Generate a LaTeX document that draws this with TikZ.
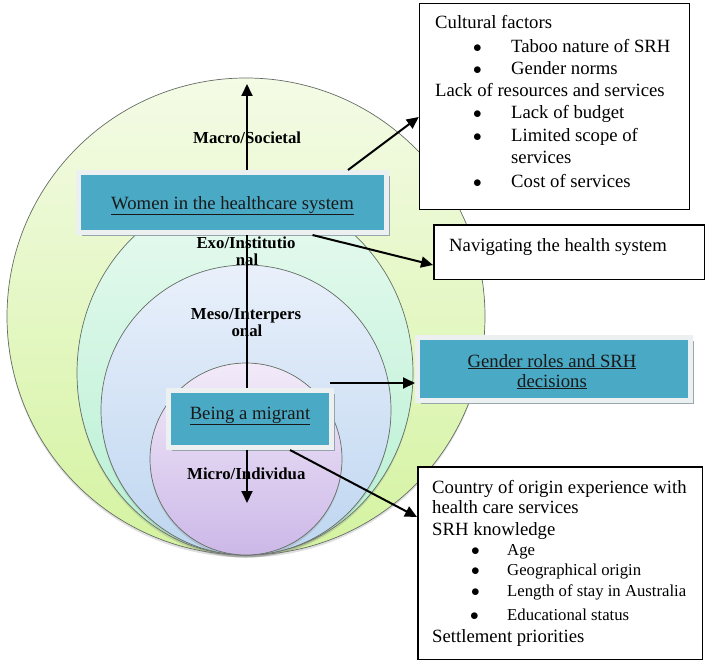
\documentclass[tikz,border=0pt]{standalone}
\usepackage{fontspec}
\setmainfont{Liberation Serif}
\usetikzlibrary{arrows.meta,shadows,calc}
\definecolor{tealfill}{RGB}{74,169,196}
\definecolor{framec}{RGB}{236,240,241}
\definecolor{shadowc}{RGB}{140,158,166}
\definecolor{macroT}{RGB}{244,251,230}
\definecolor{macroB}{RGB}{212,243,160}
\definecolor{exoT}{RGB}{232,250,240}
\definecolor{exoB}{RGB}{182,240,210}
\definecolor{mesoT}{RGB}{233,240,251}
\definecolor{mesoB}{RGB}{190,214,240}
\definecolor{microT}{RGB}{242,234,249}
\definecolor{microB}{RGB}{204,184,232}
\definecolor{ringline}{RGB}{100,110,100}
\newcommand{\bul}[1]{\makebox[#1][l]{$\bullet$}}
\begin{document}
\begin{tikzpicture}[x=1pt,y=-1pt,
  ring/.style={draw=ringline, line width=0.7pt,
    drop shadow={shadow xshift=0pt,shadow yshift=-2.5pt,opacity=0.25}},
  arr/.style={line width=2pt, -{Triangle[length=12pt,width=11pt]}},
  conn/.style={line width=2pt},
  tealbox/.style={rectangle, fill=tealfill, draw=framec, line width=5pt,
    drop shadow={shadow xshift=3pt, shadow yshift=-3pt, fill=shadowc, opacity=0.9},
    font=\fontsize{18.7}{20}\selectfont, text=black!90, inner sep=0pt},
  tealtxt/.style={anchor=base, inner sep=0pt, font=\fontsize{18.7}{20}\selectfont, text=black!90},
  wbox/.style={rectangle, draw=black, line width=1.5pt, fill=white, inner sep=0pt},
  txt/.style={anchor=base west, inner sep=0pt, font=\fontsize{18.7}{22}\selectfont},
  stxt/.style={anchor=base west, inner sep=0pt, font=\fontsize{16.7}{20}\selectfont},
  lbl/.style={inner sep=0pt, font=\fontsize{16.8}{17}\selectfont\bfseries}
]
\useasboundingbox (0,0) rectangle (708,671);

% nested circles
\shade[ring, top color=macroT, bottom color=macroB] (246,316.5) ellipse [x radius=239pt, y radius=238.5pt];
\shade[ring, top color=exoT, bottom color=exoB] (245,373) ellipse [x radius=168pt, y radius=182pt];
\shade[ring, top color=mesoT, bottom color=mesoB] (246,410) ellipse [x radius=145pt, y radius=145pt];
\shade[ring, top color=microT, bottom color=microB] (246,459) ellipse [x radius=96pt, y radius=96pt];

% level labels
\node[lbl, anchor=base west] (macro) at (193,143) {Macro/Societal};
\node[lbl, anchor=base] (exo1) at (246,248) {Exo/Institutio};
\node[lbl, anchor=base] (exo2) at (247,265) {nal};
\node[lbl, anchor=base] (meso1) at (246,319) {Meso/Interpers};
\node[lbl, anchor=base] (meso2) at (247,336) {onal};
\node[lbl, anchor=base west] (micro) at (187,479) {Micro/Individua};

% teal boxes
\node[tealbox, minimum width=308pt, minimum height=60pt, text height=13pt, text depth=0pt]
  (women) at (232.5,202.5) {\underline{Women in the healthcare system}};
\node[tealbox, minimum width=163pt, minimum height=57pt, text height=12pt, text depth=12pt]
  (migrant) at (250,419) {\underline{Being a migrant}};
\node[tealbox, minimum width=273pt, minimum height=63pt] (gender) at (554,369) {};
\node[tealtxt] (gt1) at (552,367) {\underline{Gender roles and SRH}};
\node[tealtxt] (gt2) at (552,387) {\underline{decisions}};

% white boxes
\node[wbox, minimum width=270pt, minimum height=206pt] (cult) at (554.5,106.5) {};
\node[wbox, minimum width=270.5pt, minimum height=54.5pt] (nav) at (569,252) {};
\node[wbox, minimum width=284.5pt, minimum height=192.5pt] (origin) at (560,563) {};

% text of the top box
\node[txt] (c1) at (435,29) {Cultural factors};
\node[txt] (c2) at (473,53) {\bul{38pt}Taboo nature of SRH};
\node[txt] (c3) at (473,75) {\bul{38pt}Gender norms};
\node[txt] (c4) at (435,97) {Lack of resources and services};
\node[txt] (c5) at (473,119) {\bul{38pt}Lack of budget};
\node[txt] (c6) at (473,142) {\bul{38pt}Limited scope of};
\node[txt] (c7) at (511,163) {services};
\node[txt] (c8) at (473,187) {\bul{38pt}Cost of services};

% navigating box
\node[txt] (n1) at (449,251) {Navigating the health system};

% text of the bottom box
\node[txt] (o1) at (432,493) {Country of origin experience with};
\node[txt] (o2) at (432,513) {health care services};
\node[txt] (o3) at (432,535) {SRH knowledge};
\node[stxt] (o4) at (471,555) {\bul{36pt}Age};
\node[stxt] (o5) at (471,575) {\bul{36pt}Geographical origin};
\node[stxt] (o6) at (471,596) {\bul{36pt}Length of stay in Australia};
\node[stxt] (o7) at (470,620) {\makebox[37pt][l]{\fontsize{18.7}{20}\selectfont$\bullet$}Educational status};
\node[txt] (o8) at (432,642) {Settlement priorities};

% connectors
\coordinate (macrotip) at (247,84);
\coordinate (microtip) at (247,503);
\draw[arr] (women.north -| macrotip) -- (macrotip);
\draw[arr] ([xshift=-41pt]women.north east) -- ([yshift=-10.5pt]cult.west);
\draw[arr] ([xshift=80pt]women.south) -- ([yshift=-13pt]nav.west);
\draw[conn] (migrant.north -| macrotip) -- (women.south -| macrotip);
\coordinate (g0) at ([xshift=-4pt,yshift=5pt]migrant.north east);
\draw[arr] (g0) -- (g0 -| gender.west);
\draw[arr] (migrant.south -| microtip) -- (microtip);
\draw[arr] ([xshift=-44pt]migrant.south east) -- ([yshift=-51pt]origin.north west);
\end{tikzpicture}
\end{document}
